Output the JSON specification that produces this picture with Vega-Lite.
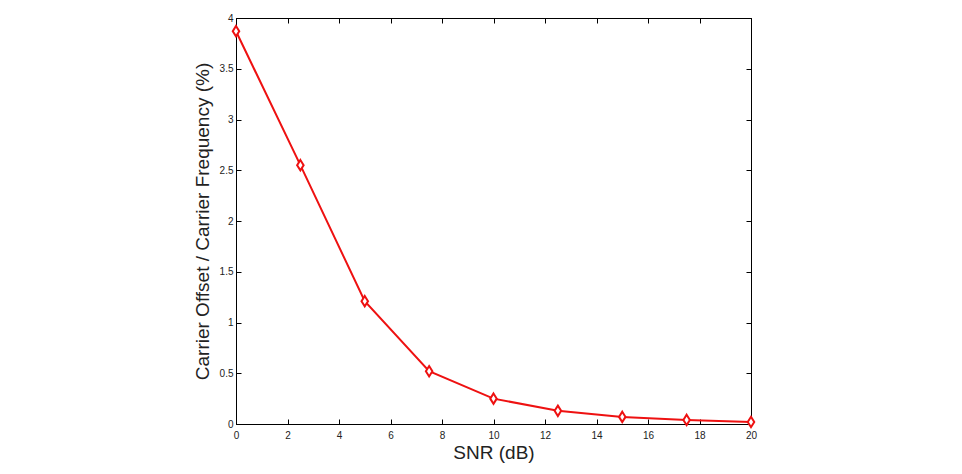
{
  "$schema": "https://vega.github.io/schema/vega-lite/v6.json",
  "autosize": "none",
  "width": 515,
  "height": 406,
  "padding": {"left": 236, "top": 18, "right": 211, "bottom": 50},
  "background": "white",
  "config": {
    "view": {"stroke": "black", "strokeWidth": 1},
    "axis": {
      "labelFont": "Liberation Sans",
      "titleFont": "Liberation Sans",
      "labelFontSize": 10,
      "labelColor": "#222",
      "titleColor": "#222",
      "titleFontSize": 19,
      "titleFontWeight": "normal",
      "grid": false,
      "domainColor": "black",
      "tickColor": "black",
      "tickSize": -5,
      "labelFlush": false,
      "format": "~g"
    }
  },
  "data": {
    "values": [
      {"snr": 0, "ratio": 3.87},
      {"snr": 2.5, "ratio": 2.55},
      {"snr": 5, "ratio": 1.21},
      {"snr": 7.5, "ratio": 0.52},
      {"snr": 10, "ratio": 0.25},
      {"snr": 12.5, "ratio": 0.13},
      {"snr": 15, "ratio": 0.07},
      {"snr": 17.5, "ratio": 0.04},
      {"snr": 20, "ratio": 0.02}
    ]
  },
  "layer": [
    {
      "mark": {"type": "line", "color": "#ee1111", "strokeWidth": 2},
      "encoding": {
        "x": {"field": "snr", "type": "quantitative", "scale": {"domain": [0, 20], "nice": false},
          "axis": {"title": "SNR (dB)", "values": [0,2,4,6,8,10,12,14,16,18,20], "labelPadding": 11, "titlePadding": 3}},
        "y": {"field": "ratio", "type": "quantitative", "scale": {"domain": [0, 4], "nice": false},
          "axis": {"title": "Carrier Offset / Carrier Frequency (%)", "values": [0,0.5,1,1.5,2,2.5,3,3.5,4], "labelPadding": 8, "titlePadding": 7}}
      }
    },
    {
      "mark": {"type": "point", "shape": "M0,-1.2L0.75,0L0,1.2L-0.75,0Z", "filled": false, "fill": "white", "color": "#ee1111", "strokeWidth": 2, "size": 75, "opacity": 1},
      "encoding": {
        "x": {"field": "snr", "type": "quantitative", "axis": {"orient": "top", "labels": false, "title": null, "values": [0,2,4,6,8,10,12,14,16,18,20]}},
        "y": {"field": "ratio", "type": "quantitative", "axis": {"orient": "right", "labels": false, "title": null, "values": [0,0.5,1,1.5,2,2.5,3,3.5,4]}}
      }
    }
  ],
  "resolve": {"axis": {"x": "independent", "y": "independent"}}
}
